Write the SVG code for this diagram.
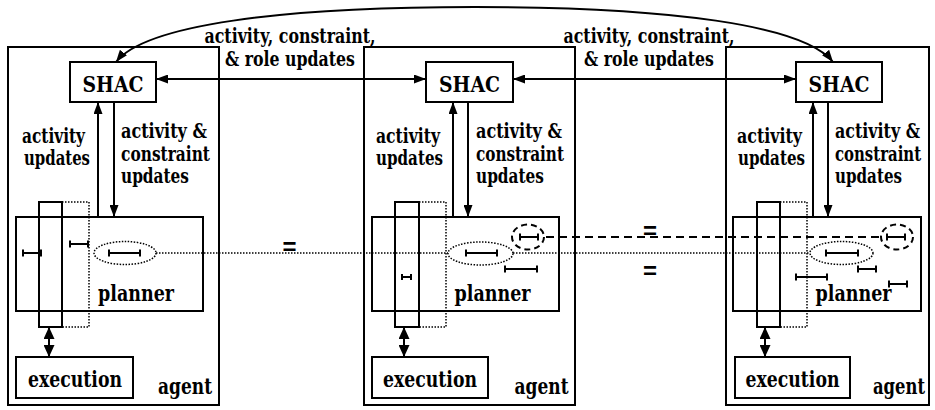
<svg xmlns="http://www.w3.org/2000/svg" width="935" height="410" viewBox="0 0 935 410">
<style>
.box{fill:none;stroke:#000;stroke-width:2}
.dot{fill:none;stroke:#000;stroke-width:1.5;stroke-dasharray:1.5 1.5}
.dash{fill:none;stroke:#000;stroke-width:2;stroke-dasharray:8 5}
.iv{fill:none;stroke:#000;stroke-width:2}
.ln{fill:none;stroke:#000;stroke-width:2}
text{font-family:'DejaVu Serif','Liberation Serif',serif;font-weight:bold;fill:#000}
.lbl{font-size:20px}
.big{font-size:22px}
.mid{text-anchor:middle}
text.eq{font-family:'Liberation Sans',Arial,sans-serif;font-weight:bold;font-size:24px;text-anchor:middle}
</style>
<defs>
<marker id="ah" viewBox="0 0 12 9" refX="12" refY="4.5" markerWidth="12" markerHeight="9" markerUnits="userSpaceOnUse" orient="auto-start-reverse"><path d="M0,0L12,4.5L0,9z" fill="#000"/></marker>
<marker id="ah2" viewBox="0 0 12 11" refX="12" refY="5.5" markerWidth="12" markerHeight="11" markerUnits="userSpaceOnUse" orient="auto-start-reverse"><path d="M0,0L12,5.5L0,11z" fill="#000"/></marker>
</defs>

<!-- Agent 1 -->
<g id="agent1">
<rect class="box" x="8" y="47" width="211" height="358"/>
<text class="big mid" x="185" y="394" textLength="54" lengthAdjust="spacingAndGlyphs">agent</text>
</g>
<g id="shac1">
<rect class="box" x="70" y="62" width="86" height="40"/>
<text class="big mid" x="113" y="92" textLength="61" lengthAdjust="spacingAndGlyphs">SHAC</text>
</g>
<g id="planner1">
<rect class="box" x="16" y="217" width="187" height="94"/>
<text class="big mid" x="136" y="301" textLength="76" lengthAdjust="spacingAndGlyphs">planner</text>
<ellipse class="dot" cx="125" cy="253" rx="31" ry="11.5"/>
<path class="iv" d="M109,253H140M109,249.5v7M140,249.5v7"/>
<path class="iv" d="M23,253H41M23,249.5v7M41,249.5v7"/>
<path class="iv" d="M70,244H88M70,240.5v7M88,240.5v7"/>
</g>
<g id="timeline1">
<rect class="box" x="39" y="202" width="23" height="125"/>
<path class="dot" d="M62,202H89V327H62"/>
</g>
<g id="execution1">
<rect class="box" x="16" y="357" width="117" height="41"/>
<text class="big mid" x="75" y="387" textLength="94" lengthAdjust="spacingAndGlyphs">execution</text>
</g>

<!-- Agent 2 -->
<g id="agent2">
<rect class="box" x="364" y="47" width="211" height="358"/>
<text class="big mid" x="541.5" y="394" textLength="54" lengthAdjust="spacingAndGlyphs">agent</text>
</g>
<g id="shac2">
<rect class="box" x="426" y="62" width="87" height="40"/>
<text class="big mid" x="469.5" y="92" textLength="61" lengthAdjust="spacingAndGlyphs">SHAC</text>
</g>
<g id="planner2">
<rect class="box" x="372" y="217" width="187" height="94"/>
<text class="big mid" x="492.5" y="301" textLength="76" lengthAdjust="spacingAndGlyphs">planner</text>
<ellipse class="dot" cx="480.5" cy="253.5" rx="32.5" ry="11.5"/>
<path class="iv" d="M466,253H497M466,249.5v7M497,249.5v7"/>
<path class="iv" d="M505,269H537M505,265.5v7M537,265.5v7"/>
<path class="iv" d="M402,277H411M402,274v6M411,274v6"/>
<ellipse class="dash" style="stroke-dasharray:6 4" cx="528" cy="237" rx="16" ry="12.5"/>
<path class="iv" d="M520,237H538M520,233.5v7M538,233.5v7"/>
</g>
<g id="timeline2">
<rect class="box" x="395" y="202" width="24" height="125"/>
<path class="dot" d="M419,202H446V327H419"/>
</g>
<g id="execution2">
<rect class="box" x="372" y="357" width="116" height="41"/>
<text class="big mid" x="430" y="387" textLength="94" lengthAdjust="spacingAndGlyphs">execution</text>
</g>

<!-- Agent 3 -->
<g id="agent3">
<rect class="box" x="726" y="47" width="203" height="358"/>
<text class="big mid" transform="translate(899,394) scale(0.78,1)" x="0" y="0" textLength="66.7" lengthAdjust="spacingAndGlyphs">agent</text>
</g>
<g id="shac3">
<rect class="box" x="796" y="62" width="86" height="40"/>
<text class="big mid" x="839" y="92" textLength="61" lengthAdjust="spacingAndGlyphs">SHAC</text>
</g>
<g id="planner3">
<rect class="box" x="733" y="217" width="188" height="94"/>
<text class="big mid" x="853.5" y="301" textLength="76" lengthAdjust="spacingAndGlyphs">planner</text>
<ellipse class="dot" cx="841.5" cy="253" rx="31.5" ry="11.5"/>
<path class="iv" d="M826,253H858M826,249.5v7M858,249.5v7"/>
<path class="iv" d="M858,269H876M858,265.5v7M876,265.5v7"/>
<path class="iv" d="M796,277H827M796,273.5v7M827,273.5v7"/>
<path class="iv" d="M889,284H907M889,280.5v7M907,280.5v7"/>
<ellipse class="dash" style="stroke-dasharray:6 4" cx="897" cy="237" rx="16" ry="12.5"/>
<path class="iv" d="M887,237H905M887,233.5v7M905,233.5v7"/>
</g>
<g id="timeline3">
<rect class="box" x="757" y="202" width="23" height="125"/>
<path class="dot" d="M780,202H807V327H780"/>
</g>
<g id="execution3">
<rect class="box" x="735" y="357" width="115" height="41"/>
<text class="big mid" x="792.5" y="387" textLength="94" lengthAdjust="spacingAndGlyphs">execution</text>
</g>

<!-- Connectors -->
<g id="connectors">
<path class="ln" d="M116,62C145,25 280,7 475,7C669,7 804,25 833,62" marker-start="url(#ah)" marker-end="url(#ah)"/>
<path class="ln" d="M156,79H426" marker-start="url(#ah)" marker-end="url(#ah)"/>
<path class="ln" d="M513,79H796" marker-start="url(#ah)" marker-end="url(#ah)"/>
<path class="ln" d="M98,217V102" marker-end="url(#ah)"/>
<path class="ln" d="M114,102V217" marker-end="url(#ah)"/>
<path class="ln" d="M453,217V102" marker-end="url(#ah)"/>
<path class="ln" d="M468,102V217" marker-end="url(#ah)"/>
<path class="ln" d="M813,217V102" marker-end="url(#ah)"/>
<path class="ln" d="M828,102V217" marker-end="url(#ah)"/>
<path class="ln" d="M49,327V357" marker-start="url(#ah2)" marker-end="url(#ah2)"/>
<path class="ln" d="M404,327V357" marker-start="url(#ah2)" marker-end="url(#ah2)"/>
<path class="ln" d="M765,327V357" marker-start="url(#ah2)" marker-end="url(#ah2)"/>
<path class="dot" d="M156,253H448"/>
<path class="dot" d="M513,253H810"/>
<path class="dash" d="M546,237H881"/>
</g>

<!-- Connector labels -->
<g id="labels">
<text class="lbl mid" x="290" y="43" textLength="171" lengthAdjust="spacingAndGlyphs">activity, constraint,</text>
<text class="lbl mid" x="290" y="66" textLength="130" lengthAdjust="spacingAndGlyphs">&amp; role updates</text>
<text class="lbl mid" x="649" y="43" textLength="171" lengthAdjust="spacingAndGlyphs">activity, constraint,</text>
<text class="lbl mid" x="649" y="66" textLength="130" lengthAdjust="spacingAndGlyphs">&amp; role updates</text>
<text class="lbl" x="22" y="143" textLength="63" lengthAdjust="spacingAndGlyphs">activity</text>
<text class="lbl" x="24" y="165" textLength="66" lengthAdjust="spacingAndGlyphs">updates</text>
<text class="lbl" x="121" y="138" textLength="86" lengthAdjust="spacingAndGlyphs">activity &amp;</text>
<text class="lbl" x="121" y="161" textLength="89" lengthAdjust="spacingAndGlyphs">constraint</text>
<text class="lbl" x="121" y="183" textLength="68" lengthAdjust="spacingAndGlyphs">updates</text>
<text class="lbl" x="376" y="143" textLength="64" lengthAdjust="spacingAndGlyphs">activity</text>
<text class="lbl" x="376" y="165" textLength="67" lengthAdjust="spacingAndGlyphs">updates</text>
<text class="lbl" x="476" y="138" textLength="86" lengthAdjust="spacingAndGlyphs">activity &amp;</text>
<text class="lbl" x="476" y="161" textLength="88" lengthAdjust="spacingAndGlyphs">constraint</text>
<text class="lbl" x="476" y="183" textLength="68" lengthAdjust="spacingAndGlyphs">updates</text>
<text class="lbl" x="737" y="143" textLength="65" lengthAdjust="spacingAndGlyphs">activity</text>
<text class="lbl" x="738" y="165" textLength="67" lengthAdjust="spacingAndGlyphs">updates</text>
<text class="lbl" transform="translate(835,138) scale(0.78,1)" x="0" y="0" textLength="109" lengthAdjust="spacingAndGlyphs">activity &amp;</text>
<text class="lbl" transform="translate(835,161) scale(0.78,1)" x="0" y="0" textLength="110.3" lengthAdjust="spacingAndGlyphs">constraint</text>
<text class="lbl" x="835" y="183" textLength="67" lengthAdjust="spacingAndGlyphs">updates</text>
<text class="eq" x="289.5" y="255">=</text>
<text class="eq" x="650" y="239">=</text>
<text class="eq" x="650" y="279">=</text>
</g>
</svg>
